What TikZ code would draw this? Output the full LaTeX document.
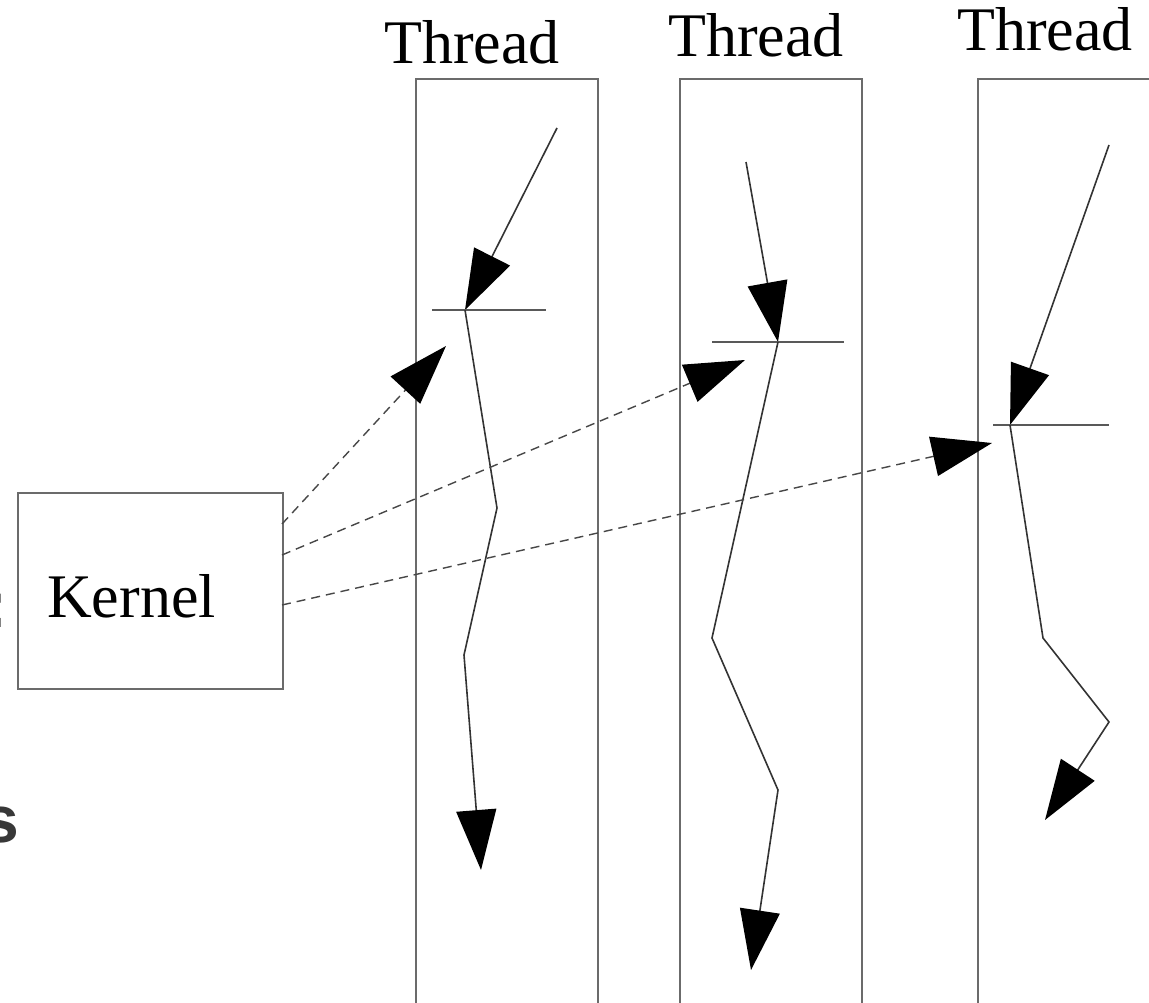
\documentclass[tikz,border=0pt]{standalone}
\usepackage{fontspec}
\setmainfont{Liberation Serif}
\newfontfamily\slidesans{Liberation Sans}
\usetikzlibrary{arrows.meta}

\begin{document}
\begin{tikzpicture}[x=1pt,y=-1pt,
  column/.style={draw=black!58, line width=2pt, anchor=north west,
    minimum width=182pt, minimum height=960pt, inner sep=0pt},
  kernelbox/.style={draw=black!58, line width=2pt, anchor=north west,
    minimum width=265pt, minimum height=196pt, inner sep=0pt},
  title/.style={anchor=base west, inner sep=0pt,
    font=\fontsize{62}{62}\selectfont},
  bigtip/.style={-{Triangle[length=60pt,width=40pt,color=black]}},
  flow/.style={draw=black!80, line width=1.6pt, bigtip, line join=miter},
  signal/.style={draw=black!72, line width=1.4pt, dash pattern=on 9pt off 6pt, bigtip},
  syncbar/.style={draw=black!65, line width=1.8pt},
  fragment/.style={inner sep=0pt, text=black!78,
    font=\slidesans\bfseries\fontsize{66}{66}\selectfont}
]
\useasboundingbox (0,0) rectangle (1149,1003);
\clip (0,0) rectangle (1149,1003);

% clipped bits of slide text at the left edge
\node[fragment, anchor=base east] (fragcolon) at (8,627) {:};
\node[fragment, anchor=base east] (frags) at (19,842) {s};

% thread columns and their headings
\node[column] (th1) at (415,78) {};
\node[column] (th2) at (679,78) {};
\node[column] (th3) at (977,78) {};
\node[title] (lab1) at (384,64) {Thread};
\node[title] (lab2) at (668,57) {Thread};
\node[title] (lab3) at (957,51) {Thread};

% kernel
\node[kernelbox] (kbox) at (17,492) {};
\node[title] (klab) at (47,617) {Kernel};

% thread 1
\coordinate (in1) at (557,128);
\coordinate (s1) at (465,310);
\coordinate (b1l) at (432,310);
\coordinate (b1r) at (546,310);
\coordinate (p11) at (497,508);
\coordinate (p12) at (464,655);
\coordinate (e1) at (481,870);
\draw[flow] (in1) -- (s1);
\draw[syncbar] (b1l) -- (b1r);
\draw[flow] (s1) -- (p11) -- (p12) -- (e1);

% thread 2
\coordinate (in2) at (746,162);
\coordinate (s2) at (778,342);
\coordinate (b2l) at (712,342);
\coordinate (b2r) at (844,342);
\coordinate (p21) at (712,638);
\coordinate (p22) at (778,790);
\coordinate (e2) at (751,970);
\draw[flow] (in2) -- (s2);
\draw[syncbar] (b2l) -- (b2r);
\draw[flow] (s2) -- (p21) -- (p22) -- (e2);

% thread 3
\coordinate (in3) at (1109,145);
\coordinate (s3) at (1010,425);
\coordinate (b3l) at (993,425);
\coordinate (b3r) at (1109,425);
\coordinate (p31) at (1043,638);
\coordinate (p32) at (1109,722);
\coordinate (e3) at (1045,820);
\draw[flow] (in3) -- (s3);
\draw[syncbar] (b3l) -- (b3r);
\draw[flow] (s3) -- (p31) -- (p32) -- (e3);

% signals from the kernel
\coordinate (k1) at (282,524);
\coordinate (k2) at (282,555);
\coordinate (k3) at (282,605);
\coordinate (t1) at (446,346);
\coordinate (t2) at (745,360);
\coordinate (t3) at (992,443);
\draw[signal] (k1) -- (t1);
\draw[signal] (k2) -- (t2);
\draw[signal] (k3) -- (t3);
\end{tikzpicture}
\end{document}
